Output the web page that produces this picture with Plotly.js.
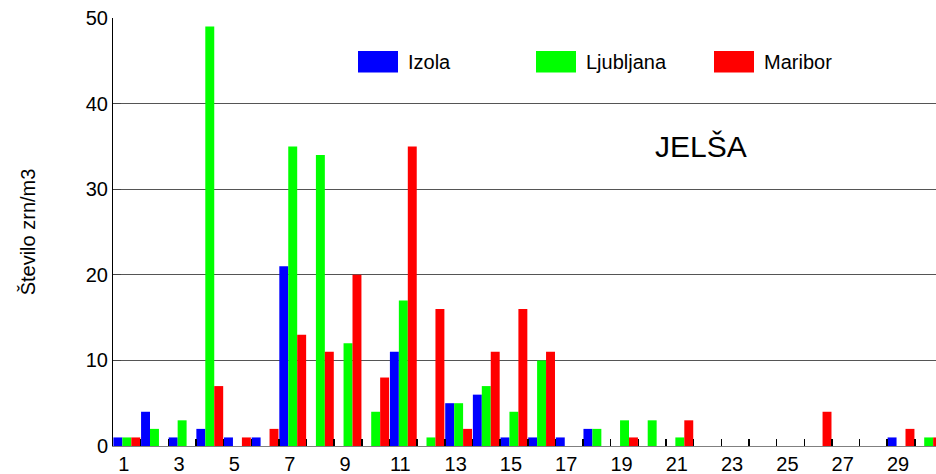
<!DOCTYPE html>
<html>
<head>
<meta charset="utf-8">
<script src="https://cdn.plot.ly/plotly-3.0.1.min.js"></script>
<style>
  html, body { margin: 0; padding: 0; background: #fff; overflow: hidden; }
  #chart { width: 936px; height: 474px; }
</style>
</head>
<body>
<div id="chart"></div>
<script>
// ---- data ----
const days = [1,2,3,4,5,6,7,8,9,10,11,12,13,14,15,16,17,18,19,20,21,22,23,24,25,26,27,28,29,30];
const izola     = [1,4,1,2,1,1,21,0,0,0,11,0,5,6,1,1,1,2,0,0,0,0,0,0,0,0,0,0,1,0];
const ljubljana = [1,2,3,49,0,0,35,34,12,4,17,1,5,7,4,10,0,2,3,3,1,0,0,0,0,0,0,0,0,1];
const maribor   = [1,0,0,7,1,2,13,11,20,8,35,16,2,11,16,11,0,0,1,0,3,0,0,0,0,4,0,0,2,1];
const seriesNames = ["Izola", "Ljubljana", "Maribor"];
const tickLabels = ["1","3","5","7","9","11","13","15","17","19","21","23","25","27","29"];
const yTitle = "Število zrn/m3";
const chartLabel = "JELŠA";

// ---- styles / layout ----
const colors = ["#0000FF", "#00FF00", "#FF0000"];
const FONT = "Arial, 'Liberation Sans', sans-serif";
const W = 936, H = 474;
const M = {l: 113, r: 0, t: 18, b: 28};
const PW = W - M.l - M.r, PH = H - M.t - M.b;
const px = x => (x - M.l) / PW;          // pixel -> paper x
const py = y => (M.t + PH - y) / PH;     // pixel -> paper y

const xRange = [0.5, 0.5 + PW / 27.65];
const oddDays = days.filter(d => d % 2 === 1);
const boundaries = days.map(d => d - 0.5).concat([days[days.length - 1] + 0.5]);

const values = [izola, ljubljana, maribor];
const traces = values.map((v, i) => ({
  type: "bar",
  x: days,
  y: v,
  name: seriesNames[i],
  marker: {color: colors[i], line: {width: 0}},
  showlegend: false,
  hoverinfo: "x+y+name"
}));
// helper trace so the boundary-tick axis is drawn
traces.push({
  type: "scatter", mode: "markers", x: days, y: days.map(() => null),
  xaxis: "x2", yaxis: "y", showlegend: false, hoverinfo: "skip"
});

// custom legend (large swatches like the reference)
const legendX = [358, 536, 714];
const shapes = [];
const annotations = [];
seriesNames.forEach((n, i) => {
  shapes.push({
    type: "rect", xref: "paper", yref: "paper",
    x0: px(legendX[i]), x1: px(legendX[i] + 40),
    y0: py(72.5), y1: py(51),
    fillcolor: colors[i], line: {width: 0}
  });
  annotations.push({
    xref: "paper", yref: "paper",
    x: px(legendX[i] + 48), y: py(62),
    xanchor: "left", yanchor: "middle",
    text: n, showarrow: false,
    font: {family: FONT, size: 20, color: "#000"}
  });
});
annotations.push({
  xref: "paper", yref: "paper",
  x: px(701), y: py(147),
  xanchor: "center", yanchor: "middle",
  text: chartLabel, showarrow: false,
  font: {family: FONT, size: 30, color: "#000"}
});

const layout = {
  width: W, height: H,
  margin: M,
  paper_bgcolor: "#fff",
  plot_bgcolor: "#fff",
  barmode: "group",
  bargap: 0.03,
  bargroupgap: 0,
  showlegend: false,
  font: {family: FONT, size: 20, color: "#000"},
  xaxis: {
    range: xRange,
    tickmode: "array",
    tickvals: oddDays,
    ticktext: tickLabels,
    ticks: "",
    ticklabelshift: -3,
    showgrid: false,
    zeroline: false,
    showline: true,
    linecolor: "#808080",
    linewidth: 1,
    tickfont: {family: FONT, size: 20, color: "#000"},
    fixedrange: true
  },
  xaxis2: {
    overlaying: "x",
    anchor: "y",
    side: "bottom",
    range: xRange,
    tickmode: "array",
    tickvals: boundaries,
    ticks: "inside",
    ticklen: 7,
    tickwidth: 1.5,
    tickcolor: "#000",
    showticklabels: false,
    showgrid: false,
    zeroline: false,
    showline: false,
    fixedrange: true
  },
  yaxis: {
    range: [0, 50],
    tickmode: "linear",
    tick0: 0,
    dtick: 10,
    ticks: "inside",
    ticklen: 8,
    tickcolor: "#444",
    showgrid: true,
    gridcolor: "#555",
    gridwidth: 1,
    zeroline: false,
    showline: true,
    linecolor: "#000",
    linewidth: 1,
    tickfont: {family: FONT, size: 20, color: "#000"},
    title: {text: yTitle, font: {family: FONT, size: 20, color: "#000"}, standoff: 44},
    automargin: false,
    fixedrange: true
  },
  shapes: shapes,
  annotations: annotations
};

Plotly.newPlot("chart", traces, layout, {displayModeBar: false, staticPlot: true});
</script>
</body>
</html>
